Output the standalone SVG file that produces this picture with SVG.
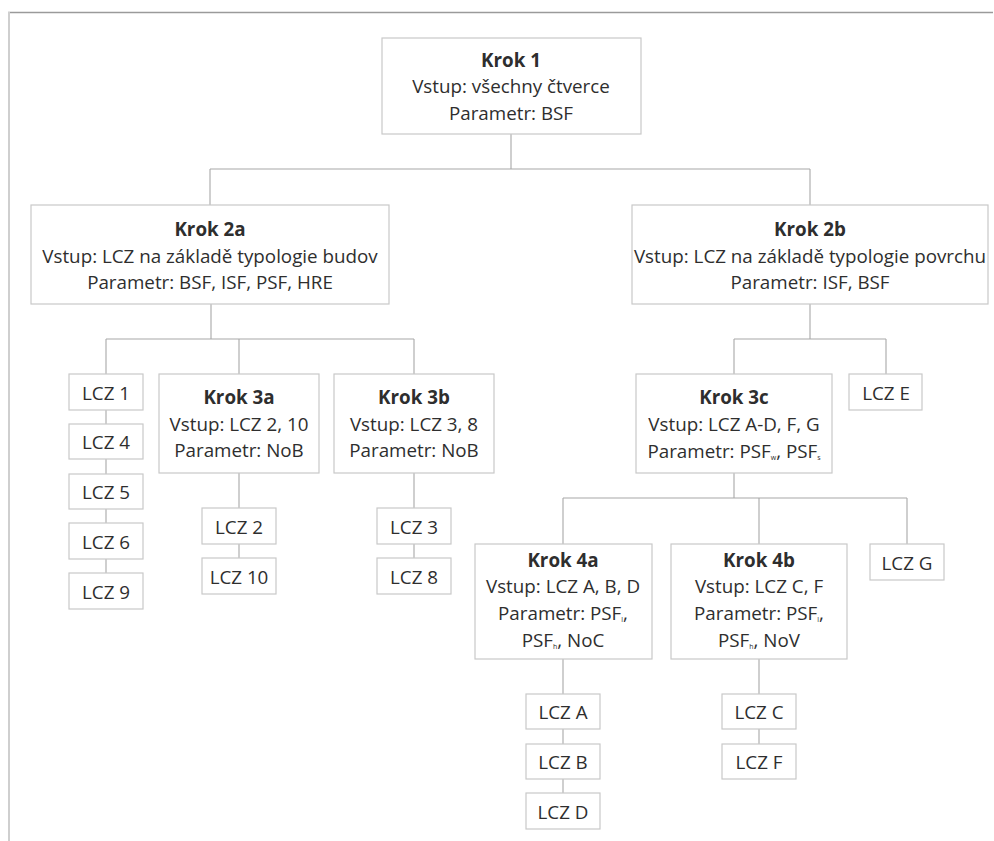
<svg xmlns="http://www.w3.org/2000/svg" width="994" height="841" viewBox="0 0 994 841">
<style>
.b{fill:#fff;stroke:#c9c9c9;stroke-width:1.2}
.c{fill:none;stroke:#a8a8a8;stroke-width:1.1}
text{font-family:"Open Sans","Liberation Sans",sans-serif;font-size:18.8px;fill:#2e2e2e;text-anchor:middle}
.h{font-weight:bold}
.s{font-size:7px}
</style>
<rect width="994" height="841" fill="#fff"/>
<line x1="8" y1="12.5" x2="993" y2="12.5" stroke="#9a9a9a" stroke-width="1.5"/>
<line x1="9" y1="12" x2="9" y2="841" stroke="#cfcfcf" stroke-width="2"/>
<g id="connectors" class="c">
<path d="M511 134V169M210 169H810M210 169V205M810 169V205"/>
<path d="M211 304V339M106 339H414M106 339V374M239 339V374M414 339V374"/>
<path d="M106 410V424M106 459V474M106 509V523M106 559V573"/>
<path d="M239 473V508M239 544V558M414 473V508M414 544V558"/>
<path d="M810 304V339M734 339H886M734 339V374M886 339V374"/>
<path d="M734 473V498M563 498H907M563 498V544M759 498V544M907 498V544"/>
<path d="M563 659V694M563 729V744M563 779V793M759 659V694M759 729V744"/>
</g>
<g id="krok1"><rect class="b" x="382" y="38" width="259" height="96"/>
<text x="511" y="67" class="h">Krok 1</text><text x="511" y="93">Vstup: všechny čtverce</text><text x="511" y="120">Parametr: BSF</text></g>
<g id="krok2a"><rect class="b" x="31" y="205" width="358" height="99"/>
<text x="210" y="236" class="h">Krok 2a</text><text x="210" y="263">Vstup: LCZ na základě typologie budov</text><text x="210" y="289">Parametr: BSF, ISF, PSF, HRE</text></g>
<g id="krok2b"><rect class="b" x="632" y="205" width="356" height="99"/>
<text x="810" y="236" class="h">Krok 2b</text><text x="810" y="263">Vstup: LCZ na základě typologie povrchu</text><text x="810" y="289">Parametr: ISF, BSF</text></g>
<g id="lcz1"><rect class="b" x="69" y="374" width="74" height="36"/><text x="106" y="400">LCZ 1</text></g>
<g id="lcz4"><rect class="b" x="69" y="424" width="74" height="35"/><text x="106" y="449">LCZ 4</text></g>
<g id="lcz5"><rect class="b" x="69" y="474" width="74" height="35"/><text x="106" y="499">LCZ 5</text></g>
<g id="lcz6"><rect class="b" x="69" y="523" width="74" height="36"/><text x="106" y="549">LCZ 6</text></g>
<g id="lcz9"><rect class="b" x="69" y="573" width="74" height="36"/><text x="106" y="599">LCZ 9</text></g>
<g id="krok3a"><rect class="b" x="159" y="374" width="160" height="99"/>
<text x="239" y="404" class="h">Krok 3a</text><text x="239" y="431">Vstup: LCZ 2, 10</text><text x="239" y="457">Parametr: NoB</text></g>
<g id="krok3b"><rect class="b" x="334" y="374" width="160" height="99"/>
<text x="414" y="404" class="h">Krok 3b</text><text x="414" y="431">Vstup: LCZ 3, 8</text><text x="414" y="457">Parametr: NoB</text></g>
<g id="lcz2"><rect class="b" x="202" y="508" width="74" height="36"/><text x="239" y="534">LCZ 2</text></g>
<g id="lcz10"><rect class="b" x="202" y="558" width="74" height="36"/><text x="239" y="584">LCZ 10</text></g>
<g id="lcz3"><rect class="b" x="377" y="508" width="74" height="36"/><text x="414" y="534">LCZ 3</text></g>
<g id="lcz8"><rect class="b" x="377" y="558" width="74" height="36"/><text x="414" y="584">LCZ 8</text></g>
<g id="krok3c"><rect class="b" x="636" y="374" width="196" height="99"/>
<text x="734" y="404" class="h">Krok 3c</text><text x="734" y="431">Vstup: LCZ A-D, F, G</text>
<text x="734" y="458">Parametr: PSF<tspan class="s" dy="2">w</tspan><tspan dy="-2">, PSF</tspan><tspan class="s" dy="2">s</tspan></text></g>
<g id="lczE"><rect class="b" x="849" y="374" width="73" height="36"/><text x="886" y="400">LCZ E</text></g>
<g id="krok4a"><rect class="b" x="475" y="544" width="177" height="115"/>
<text x="563" y="567" class="h">Krok 4a</text><text x="563" y="593">Vstup: LCZ A, B, D</text>
<text x="563" y="620">Parametr: PSF<tspan class="s" dy="2">l</tspan><tspan dy="-2">,</tspan></text>
<text x="563" y="647">PSF<tspan class="s" dy="2">h</tspan><tspan dy="-2">, NoC</tspan></text></g>
<g id="krok4b"><rect class="b" x="671" y="544" width="176" height="115"/>
<text x="759" y="567" class="h">Krok 4b</text><text x="759" y="593">Vstup: LCZ C, F</text>
<text x="759" y="620">Parametr: PSF<tspan class="s" dy="2">l</tspan><tspan dy="-2">,</tspan></text>
<text x="759" y="647">PSF<tspan class="s" dy="2">h</tspan><tspan dy="-2">, NoV</tspan></text></g>
<g id="lczG"><rect class="b" x="870" y="544" width="74" height="36"/><text x="907" y="570">LCZ G</text></g>
<g id="lczA"><rect class="b" x="526" y="694" width="74" height="35"/><text x="563" y="719">LCZ A</text></g>
<g id="lczB"><rect class="b" x="526" y="744" width="74" height="35"/><text x="563" y="769">LCZ B</text></g>
<g id="lczD"><rect class="b" x="526" y="793" width="74" height="36"/><text x="563" y="819">LCZ D</text></g>
<g id="lczC"><rect class="b" x="722" y="694" width="74" height="35"/><text x="759" y="719">LCZ C</text></g>
<g id="lczF"><rect class="b" x="722" y="744" width="74" height="35"/><text x="759" y="769">LCZ F</text></g>
</svg>
